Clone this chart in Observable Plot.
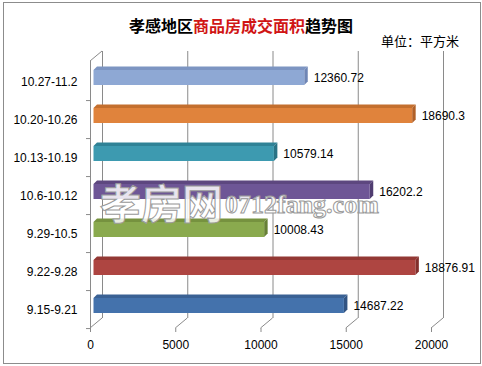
<!DOCTYPE html>
<html><head><meta charset="utf-8">
<script src="https://cdn.jsdelivr.net/npm/d3@7"></script>
<script src="https://cdn.jsdelivr.net/npm/@observablehq/plot@0.6"></script>
<style>
body{margin:0;background:#fff}
#wrap{position:relative;width:482px;height:366px;overflow:hidden;background:#fff}
#border{position:absolute;left:3px;top:2px;width:476px;height:360px;border:1px solid #8c8c8c;}
#title{position:absolute;left:0;top:15px;width:482px;text-align:center;font-family:"Noto Sans CJK SC",sans-serif;font-weight:bold;font-size:16px;line-height:20px;color:#000;white-space:nowrap}
#title .hl{color:#d01515}
#unit{position:absolute;left:381px;top:33px;font-family:"Noto Sans CJK SC",sans-serif;font-size:13px;line-height:16px;color:#000;white-space:nowrap}
#chart{position:absolute;left:0;top:0}
#wm{position:absolute;left:0;top:0;pointer-events:none}
</style>
</head><body>
<div id="wrap">
  <div id="border"></div>
  <div id="chart"></div>
  <div id="title">孝感地区<span class="hl">商品房成交面积</span>趋势图</div>
  <div id="unit">单位：平方米</div>
  <svg id="wm" width="482" height="366">
    <text x="100" y="219" font-family="Noto Sans CJK SC" font-weight="bold" font-size="41" fill="#fff" fill-opacity="0.85" stroke="#9a9a9a" stroke-width="1">孝房网</text>
    <text x="225" y="213" font-family="Liberation Serif" font-weight="bold" font-size="26" fill="#fff" fill-opacity="0.85" stroke="#9a9a9a" stroke-width="1">0712fang.com</text>
  </svg>
</div>
<script>
const categories = ["10.27-11.2","10.20-10.26","10.13-10.19","10.6-10.12","9.29-10.5","9.22-9.28","9.15-9.21"];
const areaValues = [12360.72, 18690.3, 10579.14, 16202.2, 10008.43, 18876.91, 14687.22];
const frontColors = ["#8ea8d4","#e0833c","#3d9ab0","#6e5696","#8aaa4e","#ae4541","#4472ac"];
const topColors   = ["#7d95c2","#c46f2e","#2f8296","#5d477f","#76923f","#933834","#3a6194"];
const sideColors  = ["#6f86b5","#b06028","#2a7385","#4f3c70","#678036","#822f2c","#325483"];
const xTicks = [0, 5000, 10000, 15000, 20000];

const data = categories.map((c, i) => ({cat: c, value: areaValues[i], label: String(areaValues[i]), front: frontColors[i], top: topColors[i], side: sideColors[i]}));

const GRID = "#8a8a8a";
const DEPTH_X = 12, DEPTH_Y = -10;     // wall depth (px)
const BAR_DX = 3.5, BAR_DY = -3.5;     // bar depth (px)

function floorDiagonals(index, scales, values, dim) {
  const g = d3.create("svg:g").attr("stroke", GRID).attr("fill", "none");
  const yb = dim.height - dim.marginBottom;
  const yt = dim.marginTop;
  for (const i of index) {
    const x = values.x[i];
    g.append("line").attr("x1", x).attr("y1", yb).attr("x2", x + DEPTH_X).attr("y2", yb + DEPTH_Y);
    if (i === 0) g.append("line").attr("x1", x).attr("y1", yt).attr("x2", x + DEPTH_X).attr("y2", yt + DEPTH_Y);
  }
  return g.node();
}

function bars3d(index, scales, values, dim) {
  const g = d3.create("svg:g");
  for (const i of index) {
    const d = data[i];
    const x0 = values.x1[i] + BAR_DX, x1 = values.x2[i] + BAR_DX;
    const yt = values.y[i] + 8, yb = values.y[i] + 23;
    g.append("polygon")
      .attr("points", [[x0, yt], [x1, yt], [x1 + BAR_DX, yt + BAR_DY], [x0 + BAR_DX, yt + BAR_DY]].map(p => p.join(",")).join(" "))
      .attr("fill", d.top);
    g.append("polygon")
      .attr("points", [[x1, yt], [x1 + BAR_DX, yt + BAR_DY], [x1 + BAR_DX, yb + BAR_DY], [x1, yb]].map(p => p.join(",")).join(" "))
      .attr("fill", d.side);
    g.append("rect").attr("x", x0).attr("y", yt).attr("width", Math.max(0, x1 - x0)).attr("height", yb - yt).attr("fill", d.front);
  }
  return g.node();
}

const chart = Plot.plot({
  width: 482, height: 366,
  marginTop: 61, marginBottom: 38, marginLeft: 90, marginRight: 51,
  x: {domain: [0, 20000], label: null},
  y: {type: "band", domain: categories, padding: 0, label: null},
  style: {fontFamily: "'Liberation Sans', Arial, sans-serif", fontSize: "12px", color: "#000", background: "transparent", overflow: "visible"},
  marks: [
    Plot.ruleX(xTicks, {dx: DEPTH_X, dy: DEPTH_Y, stroke: GRID}),
    Plot.ruleX(xTicks, {x: d => d, stroke: GRID, render: floorDiagonals}),
    Plot.ruleX([0], {stroke: GRID}),
    Plot.ruleY(categories, {y: d => d, x1: 0, x2: 0, insetLeft: -4, dy: (366 - 61 - 38) / categories.length / 2, stroke: GRID}),
    Plot.barX(data, {x: "value", y: "cat", render: bars3d}),
    Plot.text(data, {x: "value", y: "cat", text: "label", dx: 12.5, dy: -3, textAnchor: "start", fontSize: 12, fill: "#000"}),
    Plot.axisY({tickSize: 0, tickPadding: 13, fontSize: 12, fill: "#000", dy: 1}),
    Plot.axisX({ticks: xTicks, tickSize: 4, tickPadding: 8, tickFormat: d => String(d), stroke: GRID, fill: "#000", fontSize: 12})
  ]
});
document.getElementById("chart").appendChild(chart);
</script>
</body></html>
